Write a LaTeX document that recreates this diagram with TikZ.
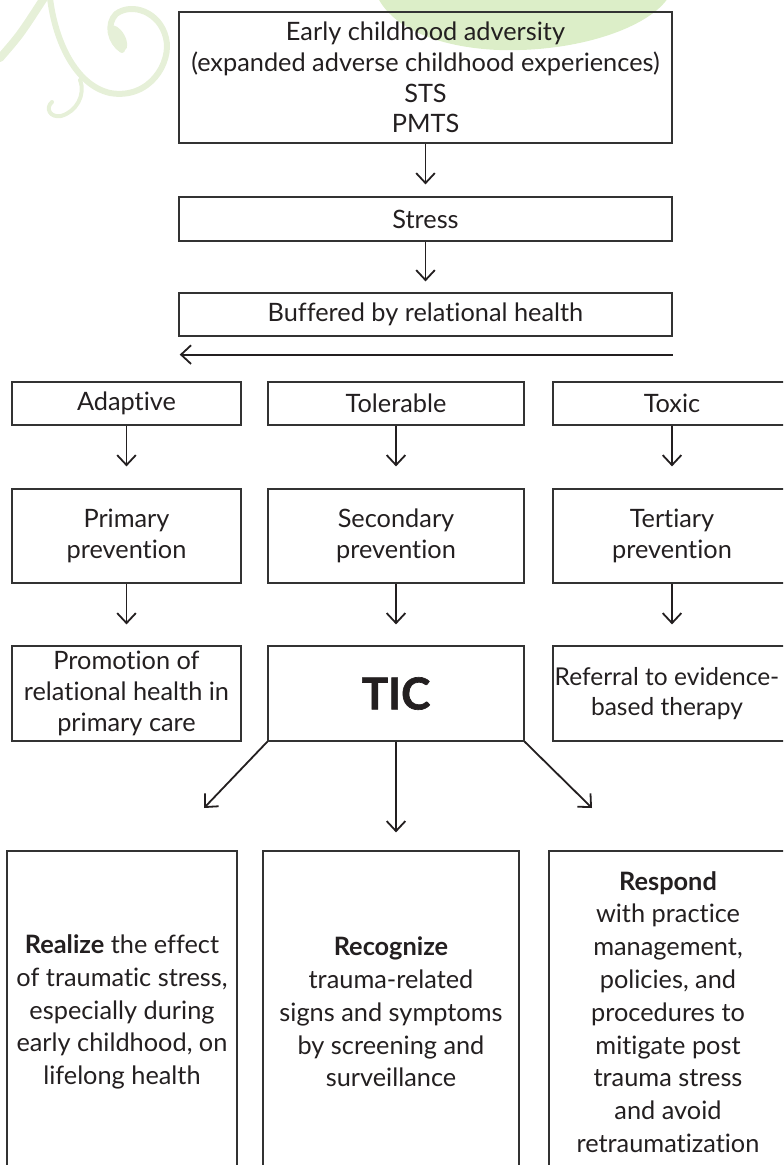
\documentclass[tikz,border=0pt]{standalone}
\usepackage{fontspec}
\setmainfont{Lato}[Ligatures=NoCommon]
\newfontfamily\heavyfont{Lato}[Ligatures=NoCommon, BoldFeatures={FakeBold=1.5}]
\usetikzlibrary{arrows.meta}
\definecolor{boxline}{HTML}{333333}
\definecolor{arrowc}{HTML}{231F20}
\definecolor{swirl}{HTML}{E6F0D8}
\definecolor{leaf}{HTML}{DCEEC8}
\definecolor{txt}{HTML}{231F20}
\begin{document}
\begin{tikzpicture}[x=0.75pt,y=-0.75pt,
  box/.style={draw=boxline, line width=0.9pt, inner sep=0pt, align=center, text=txt,
    font=\fontsize{19}{23}\selectfont},
  plaintext/.style={inner sep=0pt, align=center, text=txt, font=\fontsize{18.4}{23}\selectfont},
  bigbox/.style={box, font=\fontsize{19}{24.6}\selectfont},
  arr/.style={draw=arrowc, line width=1.35pt, -{Straight Barb[length=7.5pt,width=14pt,line width=1.35pt]}},
  colA/.style={minimum width=171.75pt},
  colB/.style={minimum width=192pt},
  colC/.style={minimum width=178.5pt},
  rowone/.style={minimum height=32.25pt},
  rowtwo/.style={minimum height=70.5pt},
  rowthree/.style={minimum height=71.25pt},
  swirlline/.style={draw=swirl, line cap=round, line join=round},
]
\useasboundingbox (0,0) rectangle (783,1165);
\clip (0,0) rectangle (783,1165);
% decorations
\fill[leaf] (378,-2) .. controls (400,40) and (470,52) .. (520,50) .. controls (590,48) and (650,25) .. (668,-2) -- cycle;
\draw[swirlline, line width=6pt] (0,58) .. controls (20,35) .. (44,-2);
\draw[swirlline, line width=4.5pt] (50,-2) .. controls (55,40) and (75,85) .. (110,93) .. controls (150,100) and (172,62) .. (166,38) .. controls (160,12) and (132,2) .. (116,14) .. controls (106,24) and (110,42) .. (122,50);
\fill[swirl, rotate around={-60:(118,38)}] (118,38) ellipse (14 and 7);
\draw[swirlline, line width=3pt] (80,80) .. controls (86,95) and (76,112) .. (61,116) .. controls (50,118) and (45,108) .. (52,102);
% top chain
\node[box, minimum width=369.75pt, minimum height=98.25pt] (ace) at (425.5,77.5)
  {Early childhood adversity\\(expanded adverse childhood experiences)\\STS\\PMTS};
\node[box, minimum width=369.75pt, minimum height=33pt] (stress) at (425.5,219) {Stress};
\node[box, minimum width=369.75pt, minimum height=32.25pt] (buf) at (425.5,314.5) {Buffered by relational health};
% row 1
\node[box, colA, rowone] (adap) at (126.5,403.5) {Adaptive};
\node[box, colB, rowone] (tol) at (396,403.5) {Tolerable};
\node[box, colC, rowone] (tox) at (672,403.5) {Toxic};
% row 2
\node[box, colA, rowtwo] (prim) at (126.5,536) {Primary\\prevention};
\node[box, colB, rowtwo] (sec) at (396,536) {Secondary\\prevention};
\node[box, colC, rowtwo] (ter) at (672,536) {Tertiary\\prevention};
% row 3
\node[box, colA, rowthree] (prom) at (126.5,693.5) {Promotion of\\relational health in\\primary care};
\node[box, colB, rowthree, font=\fontsize{33}{36}\heavyfont\bfseries] (tic) at (396,693.5) {TIC};
\node[box, colC, rowthree] (ref) at (672,693.5) {};
\node[plaintext] (reftxt) at (667,693.5) {Referral to evidence-\\based therapy};
% bottom
\node[bigbox, minimum width=172.5pt, minimum height=241.5pt] (real) at (122,1012)
  {\textbf{Realize} the effect\\of traumatic stress,\\especially during\\early childhood, on\\lifelong health};
\node[bigbox, minimum width=192pt, minimum height=241.5pt] (reco) at (391,1012)
  {\textbf{Recognize}\\trauma-related\\signs and symptoms\\by screening and\\surveillance};
\node[bigbox, minimum width=178.5pt, minimum height=241.5pt] (resp) at (668,1012)
  {\textbf{Respond}\\with practice\\management,\\policies, and\\procedures to\\mitigate post\\trauma stress\\and avoid\\retraumatization};
% arrows
\draw[arr, shorten >=9pt] (ace) -- (stress);
\draw[arr, shorten >=8.25pt] (stress) -- (buf);
\draw[arr] ([yshift=-13.5pt]buf.south east) -- ([yshift=-13.5pt,xshift=1pt]buf.south west);
\draw[arr, shorten >=16.5pt] (adap) -- (prim);
\draw[arr, shorten >=16.5pt] (tol) -- (sec);
\draw[arr, shorten >=16.5pt] (tox) -- (ter);
\draw[arr, shorten >=15.75pt] (prim) -- (prom);
\draw[arr, shorten >=15.75pt] (sec) -- (tic);
\draw[arr, shorten >=15.75pt] (ter) -- (ref);
\coordinate (dl) at (204,808);
\coordinate (dr) at (592,808);
\draw[arr] (tic.south west) -- (dl);
\draw[arr] (tic.south east) -- (dr);
\draw[arr, shorten >=13.5pt] (tic.south) -- (tic.south |- reco.north);
\end{tikzpicture}
\end{document}
